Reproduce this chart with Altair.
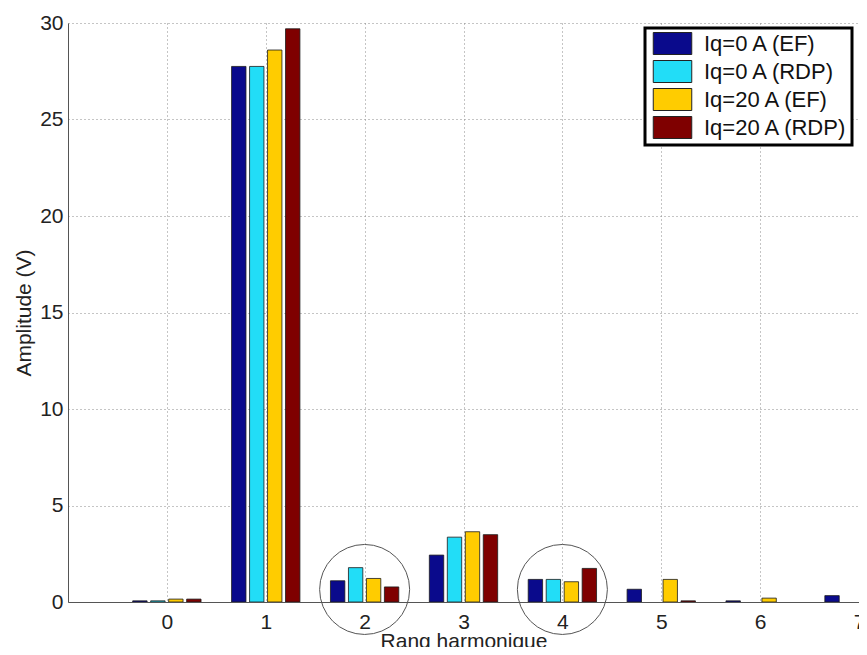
import altair as alt
import pandas as pd

# ---- data ----
harmonics = [0, 1, 2, 3, 4, 5, 6, 7]
series = ["Iq=0 A (EF)", "Iq=0 A (RDP)", "Iq=20 A (EF)", "Iq=20 A (RDP)"]
colors = ["#0a0a8c", "#22ddf7", "#ffcc00", "#7f0000"]
iq0_ef = [0.06, 27.75, 1.10, 2.43, 1.17, 0.66, 0.06, 0.33]
iq0_rdp = [0.06, 27.75, 1.78, 3.36, 1.17, 0.00, 0.00, 0.00]
iq20_ef = [0.15, 28.60, 1.22, 3.64, 1.05, 1.17, 0.20, 0.00]
iq20_rdp = [0.15, 29.70, 0.78, 3.49, 1.74, 0.06, 0.00, 0.00]
circled = [2, 4]          # harmonics highlighted with a circle
circle_level = [0.65, 0.65]

y_ticks = [0, 5, 10, 15, 20, 25, 30]

# grouped-bar geometry (MATLAB style: 4 bars per group)
n = len(series)
group_w = min(0.8, n / (n + 1.5))
step = group_w / n
bar_w = step * 0.8

rows = []
for i, (name, vals) in enumerate(zip(series, [iq0_ef, iq0_rdp, iq20_ef, iq20_rdp])):
    off = (i - (n - 1) / 2) * step
    for h, v in zip(harmonics, vals):
        c = h + off
        rows.append({"series": name, "x0": c - bar_w / 2, "x1": c + bar_w / 2,
                     "value": v, "base": 0.0})
df = pd.DataFrame(rows)
circ = pd.DataFrame({"x0": circled, "value": circle_level})

FONT = "Liberation Sans"
W, H = 791, 579

xscale = alt.Scale(domain=[-1, 7], nice=False, zero=False)
yscale = alt.Scale(domain=[0, 30], nice=False)

bars = alt.Chart(df).transform_filter("datum.value > 0").mark_bar(
    clip=True, stroke="#1a1a1a", strokeWidth=0.8, opacity=1).encode(
    x=alt.X("x0:Q", scale=xscale, title="Rang harmonique",
            axis=alt.Axis(values=harmonics, format="d", labelPadding=9, labelFlush=False,
                          titleY=45, titleX=W / 2, titleBaseline="alphabetic")),
    x2="x1:Q",
    y=alt.Y("value:Q", scale=yscale, title="Amplitude (V)",
            axis=alt.Axis(values=y_ticks, labelPadding=5,
                          titleX=-38, titleY=H / 2, titleBaseline="alphabetic")),
    y2="base:Q",
    color=alt.Color("series:N", scale=alt.Scale(domain=series, range=colors),
                    legend=alt.Legend(
                        orient="none", legendX=577, legendY=5, title=None,
                        padding=4, strokeColor="#000000", fillColor="white",
                        cornerRadius=0,
                        symbolType="M-1.75,-1H1.75V1H-1.75Z", symbolSize=484,
                        symbolStrokeColor="#222222", symbolStrokeWidth=1,
                        symbolOffset=12, labelOffset=20, rowPadding=1,
                        labelFont=FONT, labelFontSize=22, labelColor="#111111",
                        labelLimit=220)),
)

circles = alt.Chart(circ).mark_point(shape="circle", filled=False, size=8100,
                                     stroke="#555555", strokeWidth=1, opacity=1).encode(
    x=alt.X("x0:Q", scale=xscale),
    y=alt.Y("value:Q", scale=yscale),
)

chart = alt.layer(bars, circles).properties(
    width=W, height=H,
    autosize=alt.AutoSizeParams(type="none"),
    padding={"left": 60, "top": 15, "right": 0, "bottom": 45},
).configure_view(stroke=None).configure_axis(
    grid=True, gridColor="#8a8a8a", gridDash=[1, 3], gridWidth=1,
    domainColor="#555555", domainWidth=1, ticks=False,
    labelFont=FONT, labelFontSize=21, labelColor="#222222",
    titleFont=FONT, titleFontSize=21, titleFontWeight="normal", titleColor="#222222",
).configure_legend(strokeWidth=3)

chart.save("out.html", embed_options={"renderer": "svg", "actions": False})
